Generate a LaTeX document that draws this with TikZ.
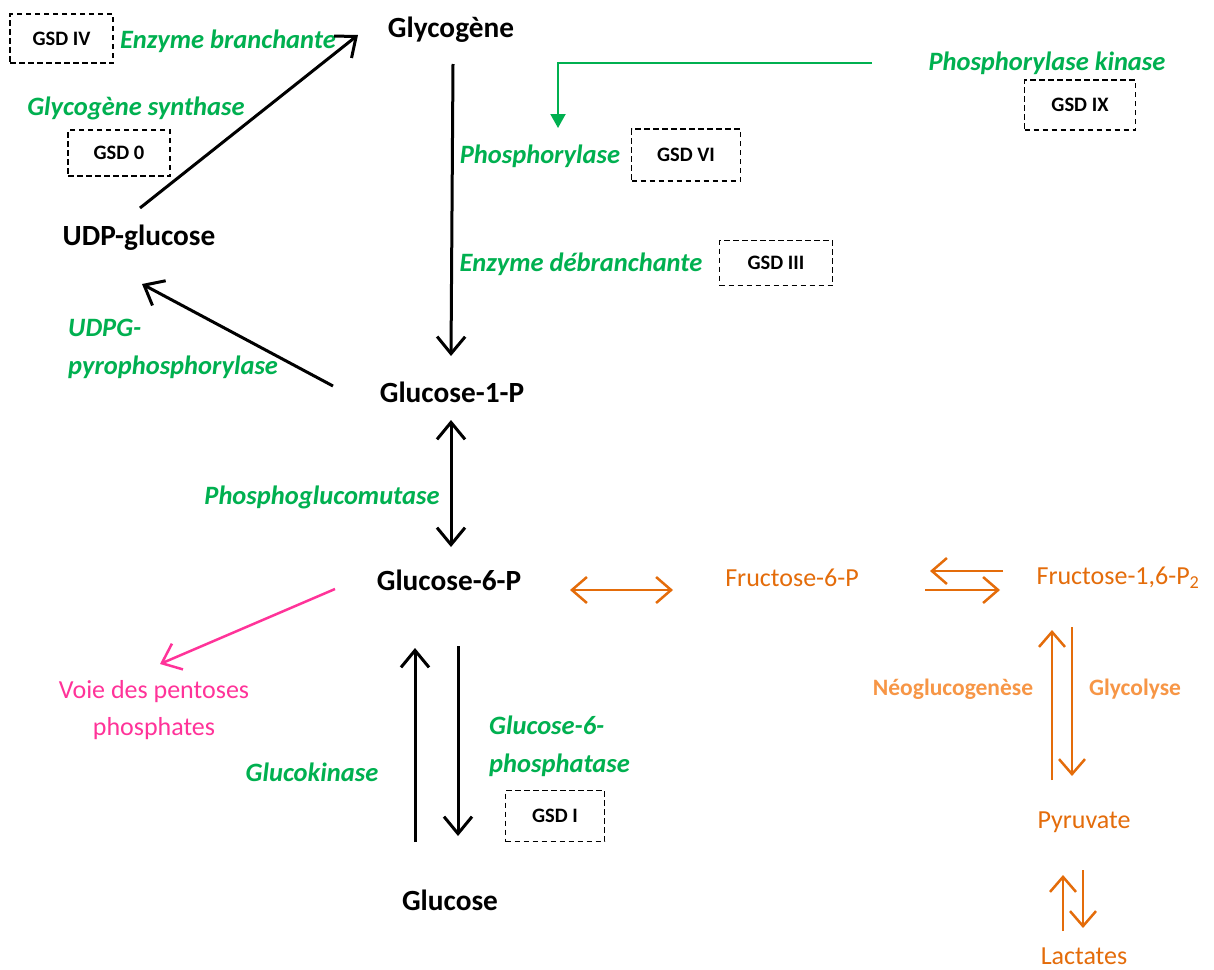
\documentclass[tikz,border=0pt]{standalone}
\usepackage{fontspec}
\setmainfont{Carlito}
\usetikzlibrary{arrows.meta}
\definecolor{ggreen}{HTML}{00B050}
\definecolor{dorange}{HTML}{E46C0A}
\definecolor{lorange}{HTML}{F79646}
\definecolor{ppink}{HTML}{FF3399}
\tikzset{
  mainlbl/.style={font=\fontsize{29.3}{34}\selectfont\bfseries, inner sep=0pt},
  enz/.style={font=\fontsize{26.5}{38}\selectfont\bfseries\itshape, text=ggreen, inner sep=0pt},
  gsd/.style={draw, line width=1.7pt, dash pattern=on 5.5pt off 3.5pt, inner sep=0pt,
     font=\fontsize{20.5}{24}\selectfont\bfseries},
  met/.style={font=\fontsize{26}{30}\selectfont, text=dorange, inner sep=0pt},
  pathlbl/.style={font=\fontsize{23.5}{28}\selectfont\bfseries, text=lorange, inner sep=0pt},
  ppplbl/.style={font=\fontsize{26}{37}\selectfont, text=ppink, inner sep=0pt, align=center},
  bt/.tip={Straight Barb[length=17pt,width=28pt]},
  ot/.tip={Straight Barb[length=15pt,width=26pt]},
  blk/.style={line width=3pt, draw=black, -bt},
  org/.style={line width=2.5pt, draw=dorange, -ot},
}
\begin{document}
\begin{tikzpicture}[x=1pt,y=-1pt]
\useasboundingbox (0,0) rectangle (1214,969);
\fill[white] (0,0) rectangle (1214,969);

% metabolites
\node[mainlbl] (glyc) at (451,30) {Glycogène};
\node[mainlbl] (udp) at (139,238) {UDP-glucose};
\node[mainlbl] (g1p) at (452,392) {Glucose-1-P};
\node[mainlbl] (g6p) at (449,580) {Glucose-6-P};
\node[mainlbl] (glc) at (450,900) {Glucose};
\node[met] (f6p) at (792,578) {Fructose-6-P};
\node[met] (f16) at (1118,578) {Fructose-1,6-P\textsubscript{2}};
\node[met] (pyr) at (1084,822) {Pyruvate};
\node[met] (lac) at (1084,956) {Lactates};
\node[ppplbl] (ppp) at (154,710) {Voie des pentoses\\phosphates};

% enzymes
\node[enz] (ebr) at (228,41) {Enzyme branchante};
\node[enz] (gsy) at (136,108) {Glycogène synthase};
\node[enz] (pk) at (1047,63) {Phosphorylase kinase};
\node[enz] (ph) at (540,156) {Phosphorylase};
\node[enz] (edb) at (581,264) {Enzyme débranchante};
\node[enz, align=left, anchor=west] (udpg) at (68,349) {UDPG-\\pyrophosphorylase};
\node[enz] (pgm) at (322,497) {Phosphoglucomutase};
\node[enz] (gk) at (312,772) {Glucokinase};
\node[enz, align=left, anchor=west] (g6pase) at (489,746) {Glucose-6-\\phosphatase};
\node[pathlbl] (neo) at (953,689) {Néoglucogenèse};
\node[pathlbl] (glyco) at (1135,689) {Glycolyse};

% GSD boxes
\node[gsd, minimum width=103pt, minimum height=49pt] (gsd4) at (61.5,38.5) {GSD IV};
\node[gsd, minimum width=102pt, minimum height=46pt] (gsd0) at (119,153) {GSD 0};
\node[gsd, minimum width=109pt, minimum height=52pt] (gsd6) at (686,155) {GSD VI};
\node[gsd, minimum width=113pt, minimum height=45pt] (gsd3) at (776,263) {GSD III};
\node[gsd, minimum width=111pt, minimum height=50pt] (gsd9) at (1080,105) {GSD IX};
\node[gsd, minimum width=99pt, minimum height=51pt] (gsd1) at (555,816) {GSD I};

% arrow end points
\coordinate (a1s) at (140,208); \coordinate (a1e) at (358,35);
\coordinate (a2s) at (453,64);  \coordinate (a2e) at (451,356);
\coordinate (a3s) at (333,386); \coordinate (a3e) at (142,284);
\coordinate (a4s) at (451,420); \coordinate (a4e) at (451,547);
\coordinate (a5s) at (415,842); \coordinate (a5e) at (415,648);
\coordinate (a6s) at (458,646); \coordinate (a6e) at (458,836);
\coordinate (p1s) at (335,589); \coordinate (p1e) at (160,664);
\coordinate (o1s) at (570,590); \coordinate (o1e) at (673,590);
\coordinate (o2s) at (1003,571); \coordinate (o2e) at (930,571);
\coordinate (o3s) at (925,590); \coordinate (o3e) at (1000,590);
\coordinate (o4s) at (1052,780); \coordinate (o4e) at (1052,630);
\coordinate (o5s) at (1072,627); \coordinate (o5e) at (1072,776);
\coordinate (o6s) at (1063,931); \coordinate (o6e) at (1063,875);
\coordinate (o7s) at (1083,870); \coordinate (o7e) at (1083,928);
\coordinate (k1) at (872,63); \coordinate (k2) at (558,63); \coordinate (k3) at (558,128);

% black arrows
\draw[blk] (a1s) -- (a1e);
\draw[blk] (a2s) -- (a2e);
\draw[blk] (a3s) -- (a3e);
\draw[blk, bt-bt] (a4s) -- (a4e);
\draw[blk] (a5s) -- (a5e);
\draw[blk] (a6s) -- (a6e);
% pink
\draw[line width=2.5pt, draw=ppink, -{Straight Barb[length=17pt,width=28pt]}] (p1s) -- (p1e);
% orange
\draw[org, ot-ot] (o1s) -- (o1e);
\draw[org] (o2s) -- (o2e);
\draw[org] (o3s) -- (o3e);
\draw[org] (o4s) -- (o4e);
\draw[org] (o5s) -- (o5e);
\draw[org] (o6s) -- (o6e);
\draw[org] (o7s) -- (o7e);
% green regulation arrow
\draw[line width=2pt, draw=ggreen, -{Triangle[length=14pt,width=15pt]}] (k1) -- (k2) -- (k3);
\end{tikzpicture}
\end{document}
